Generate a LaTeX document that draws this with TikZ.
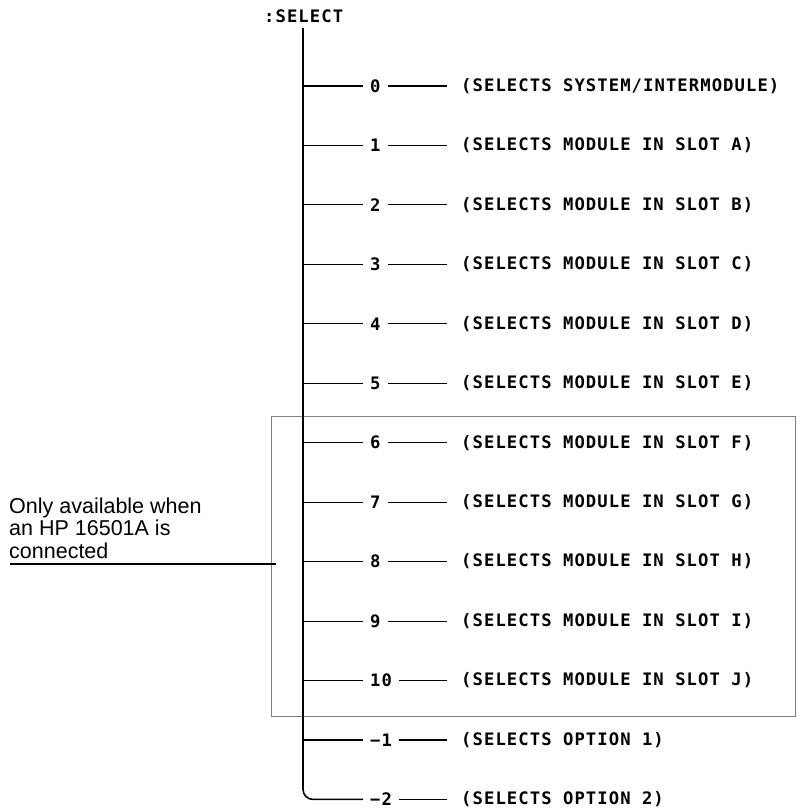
\documentclass[tikz,border=0pt]{standalone}
\usepackage{fontspec}
\setmainfont{Liberation Sans}
\newfontfamily\plotfont[LetterSpace=6.3]{DejaVu Sans Mono}
\begin{document}
\begin{tikzpicture}[x=1pt,y=-1pt,
  plot/.style={font=\plotfont\bfseries\fontsize{17.2}{20}\selectfont, inner sep=0pt, anchor=west},
  trunk/.style={line width=1.6pt},
  branch/.style={line width=1.1pt},
  framebox/.style={draw=black!50, line width=0.6pt},
  note/.style={font=\fontsize{21.5}{22.5}\selectfont, align=left, inner sep=0pt, anchor=north west}]
\useasboundingbox (0,0) rectangle (796,811);

% title
\node[plot] (sel) at (264,16) {:SELECT};
\coordinate (top) at (303,28);

% group frame
\draw[framebox] (271,416) rectangle (795,716);

% row 0
\node[plot] (n0) at (370,86) {0};
\node[plot] (d0) at (461,86) {(SELECTS SYSTEM/INTERMODULE)};
\coordinate (t0) at (303,86);
\draw[branch] (t0) -- ([xshift=-7pt]n0.west);
\draw[branch] ([xshift=7pt]n0.east) -- ([xshift=-14pt]d0.west);

% rows 1..11
\foreach \k/\num/\txt in {1/1/{(SELECTS MODULE IN SLOT A)},
                          2/2/{(SELECTS MODULE IN SLOT B)},
                          3/3/{(SELECTS MODULE IN SLOT C)},
                          4/4/{(SELECTS MODULE IN SLOT D)},
                          5/5/{(SELECTS MODULE IN SLOT E)},
                          6/6/{(SELECTS MODULE IN SLOT F)},
                          7/7/{(SELECTS MODULE IN SLOT G)},
                          8/8/{(SELECTS MODULE IN SLOT H)},
                          9/9/{(SELECTS MODULE IN SLOT I)},
                          10/10/{(SELECTS MODULE IN SLOT J)},
                          11/−1/{(SELECTS OPTION 1)}}{
  \pgfmathsetmacro\yy{86+59.45*\k}
  \node[plot] (n\k) at (370,\yy) {\num};
  \node[plot] (d\k) at (461,\yy) {\txt};
  \coordinate (t\k) at (303,\yy);
  \draw[branch] (t\k) -- ([xshift=-7pt]n\k.west);
  \draw[branch] ([xshift=7pt]n\k.east) -- ([xshift=-14pt]d\k.west);
}

% last row
\pgfmathsetmacro\yl{86+59.45*12}
\node[plot] (n12) at (370,\yl) {−2};
\node[plot] (d12) at (461,\yl) {(SELECTS OPTION 2)};
\coordinate (t12) at (303,\yl);
\draw[branch] ([xshift=7pt]n12.east) -- ([xshift=-14pt]d12.west);

% trunk
\draw[trunk, rounded corners=10pt] (top) -- (t12) -- ([xshift=-7pt]n12.west);

% side note
\node[note] (note) at (9,497.5) {Only available when\\an HP 16501A is\\connected};
\coordinate (ulL) at (10,564);
\coordinate (ulR) at (276,564);
\draw[branch] (ulL) -- (ulR);
\end{tikzpicture}
\end{document}
